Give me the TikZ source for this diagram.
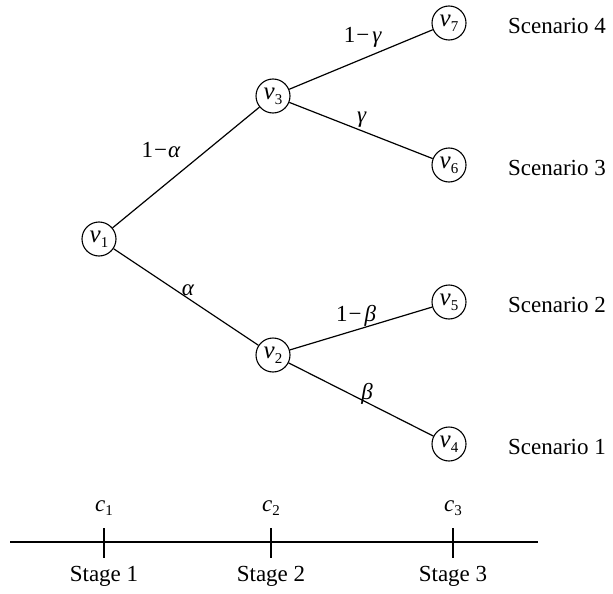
\documentclass[tikz,border=0pt]{standalone}
\usepackage{fontspec}
\setmainfont{Liberation Serif}
\newcommand{\vsub}[1]{{\fontsize{25}{27}\selectfont\textit{v}}\raisebox{-0.45ex}{\fontsize{15}{15}\selectfont #1}}
\newcommand{\csub}[1]{\textit{c}\raisebox{-0.4ex}{\fontsize{15}{15}\selectfont #1}}
\begin{document}
\begin{tikzpicture}[x=1pt,y=-1pt,
  font=\fontsize{23}{27}\selectfont,
  vnode/.style={draw, circle, line width=1.1pt, minimum size=34pt, inner sep=0pt},
  edge/.style={line width=1.2pt},
  lbl/.style={inner sep=1pt}]
\useasboundingbox (0,0) rectangle (613,594);
% tree nodes
\node[vnode] (v1) at (99,239) {\vsub{1}};
\node[vnode] (v3) at (273,96) {\vsub{3}};
\node[vnode] (v2) at (273,355) {\vsub{2}};
\node[vnode] (v7) at (449,23) {\vsub{7}};
\node[vnode] (v6) at (449,165) {\vsub{6}};
\node[vnode] (v5) at (449,302) {\vsub{5}};
\node[vnode] (v4) at (449,444) {\vsub{4}};
% edges
\draw[edge] (v1) -- (v3);
\draw[edge] (v1) -- (v2);
\draw[edge] (v3) -- (v7);
\draw[edge] (v3) -- (v6);
\draw[edge] (v2) -- (v5);
\draw[edge] (v2) -- (v4);
% edge labels
\node[lbl] (la1) at (161,150) {1\kern1pt−\kern1pt\textit{α}};
\node[lbl] (la2) at (188,290) {\textit{α}};
\node[lbl] (lg1) at (363,37) {1\kern1pt−\kern3pt\textit{γ}};
\node[lbl] (lg2) at (362,120) {\textit{γ}};
\node[lbl] (lb1) at (356,316) {1\kern1pt−\kern3pt\textit{β}};
\node[lbl] (lb2) at (367,394) {\textit{β}};
% scenarios
\node (s4) at (557,26) {Scenario 4};
\node (s3) at (557,168) {Scenario 3};
\node (s2) at (557,305) {Scenario 2};
\node (s1) at (557,447) {Scenario 1};
% timeline
\coordinate (tl) at (10,542);
\coordinate (tr) at (538,542);
\draw[edge] (tl) -- (tr);
\coordinate (t1) at (104,542);
\coordinate (t2) at (271,542);
\coordinate (t3) at (453,542);
\foreach \t in {t1,t2,t3}{
  \draw[edge] ([yshift=14pt]\t) -- ([yshift=-16pt]\t);
}
\node (c1) at (104,508) {\csub{1}};
\node (c2) at (271,508) {\csub{2}};
\node (c3) at (453,508) {\csub{3}};
\node (st1) at (104,576) {Stage 1};
\node (st2) at (271,576) {Stage 2};
\node (st3) at (453,576) {Stage 3};
\end{tikzpicture}
\end{document}
